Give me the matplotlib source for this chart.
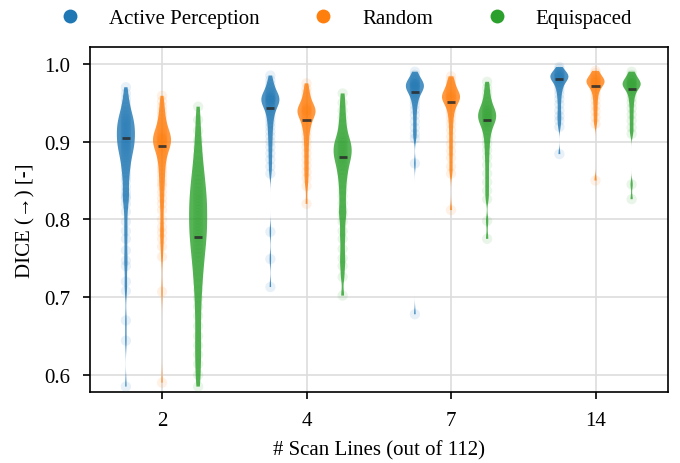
import matplotlib
matplotlib.use("Agg")
import matplotlib.pyplot as plt
import numpy as np
from matplotlib.lines import Line2D

plt.rcParams['font.family'] = ['Liberation Serif', 'DejaVu Serif']

categories = ["2", "4", "7", "14"]
methods = ["Active Perception", "Random", "Equispaced"]
colors = ["#1f77b4", "#ff7f0e", "#2ca02c"]

# DICE samples (per scan-line count)
active_2 = [0.970, 0.962, 0.955, 0.949, 0.944, 0.940, 0.937, 0.934, 0.931, 0.929, 0.927, 0.925,
            0.923, 0.921, 0.919, 0.917, 0.915, 0.913, 0.911, 0.909, 0.907, 0.905, 0.903, 0.901,
            0.899, 0.897, 0.895, 0.893, 0.891, 0.889, 0.886, 0.883, 0.880, 0.877, 0.873, 0.869,
            0.865, 0.860, 0.855, 0.850, 0.842, 0.835, 0.830, 0.827, 0.820, 0.810, 0.797,
            0.785, 0.775, 0.760, 0.747, 0.740, 0.720, 0.708, 0.670, 0.644, 0.585]
active_4 = [0.985, 0.979, 0.974, 0.970, 0.967, 0.964, 0.962, 0.960, 0.958, 0.957, 0.956, 0.955,
            0.954, 0.953, 0.952, 0.951, 0.949, 0.947, 0.945, 0.943, 0.940, 0.937, 0.933, 0.929,
            0.924, 0.919, 0.913, 0.907, 0.900, 0.893, 0.885, 0.877, 0.868, 0.859, 0.784, 0.749, 0.713]
active_7 = [0.990, 0.986, 0.983, 0.980, 0.978, 0.976, 0.975, 0.974, 0.973, 0.972, 0.971, 0.970,
            0.969, 0.968, 0.966, 0.964, 0.962, 0.959, 0.956, 0.952, 0.947, 0.941, 0.934, 0.926,
            0.918, 0.910, 0.904, 0.872, 0.678]
active_14 = [0.996, 0.993, 0.990, 0.988, 0.987, 0.986, 0.985, 0.984, 0.983, 0.982, 0.981, 0.980,
             0.978, 0.976, 0.973, 0.970, 0.966, 0.961, 0.955, 0.948, 0.940, 0.933, 0.927, 0.919, 0.884]

random_2 = [0.959, 0.952, 0.945, 0.939, 0.934, 0.929, 0.925, 0.921, 0.918, 0.915, 0.912, 0.910,
            0.908, 0.906, 0.905, 0.904, 0.903, 0.902, 0.901, 0.900, 0.899, 0.897, 0.895, 0.893,
            0.891, 0.888, 0.885, 0.882, 0.878, 0.874, 0.869, 0.864, 0.859, 0.853, 0.847, 0.843,
            0.835, 0.827, 0.820, 0.812, 0.800, 0.790, 0.783, 0.775, 0.765, 0.752, 0.707, 0.590]
random_4 = [0.975, 0.968, 0.962, 0.957, 0.953, 0.949, 0.946, 0.944, 0.942, 0.941, 0.940, 0.939,
            0.938, 0.936, 0.934, 0.932, 0.929, 0.926, 0.922, 0.918, 0.913, 0.907, 0.900, 0.893,
            0.885, 0.877, 0.869, 0.861, 0.853, 0.843, 0.820]
random_7 = [0.984, 0.979, 0.975, 0.971, 0.968, 0.965, 0.963, 0.961, 0.959, 0.958, 0.957, 0.956,
            0.955, 0.953, 0.951, 0.948, 0.945, 0.941, 0.936, 0.930, 0.923, 0.915, 0.906, 0.897,
            0.888, 0.879, 0.868, 0.859, 0.812]
random_14 = [0.991, 0.988, 0.985, 0.982, 0.980, 0.979, 0.978, 0.977, 0.976, 0.975, 0.973, 0.971,
             0.968, 0.964, 0.959, 0.953, 0.946, 0.939, 0.931, 0.923, 0.850]

equi_2 = [0.945, 0.928, 0.914, 0.902, 0.892, 0.883, 0.875, 0.868, 0.862, 0.856, 0.851, 0.846,
          0.841, 0.836, 0.832, 0.828, 0.824, 0.820, 0.816, 0.812, 0.808, 0.804, 0.800, 0.796,
          0.792, 0.788, 0.784, 0.780, 0.776, 0.772, 0.767, 0.762, 0.757, 0.752, 0.746, 0.740,
          0.733, 0.726, 0.718, 0.709, 0.699, 0.688, 0.676, 0.663, 0.650, 0.638, 0.626, 0.614,
          0.600, 0.585]
equi_4 = [0.962, 0.950, 0.940, 0.931, 0.923, 0.916, 0.910, 0.905, 0.901, 0.898, 0.895, 0.892,
          0.889, 0.886, 0.883, 0.880, 0.877, 0.873, 0.869, 0.864, 0.859, 0.853, 0.846, 0.838,
          0.830, 0.821, 0.812, 0.806, 0.797, 0.785, 0.775, 0.762, 0.750, 0.740, 0.726, 0.702]
equi_7 = [0.977, 0.969, 0.962, 0.956, 0.951, 0.947, 0.944, 0.941, 0.939, 0.937, 0.935, 0.933,
          0.931, 0.929, 0.927, 0.925, 0.922, 0.919, 0.915, 0.910, 0.904, 0.897, 0.889, 0.880,
          0.870, 0.859, 0.848, 0.837, 0.826, 0.798, 0.775]
equi_14 = [0.990, 0.986, 0.983, 0.980, 0.978, 0.976, 0.975, 0.974, 0.973, 0.972, 0.970, 0.968,
           0.965, 0.961, 0.956, 0.950, 0.943, 0.935, 0.927, 0.918, 0.910, 0.845, 0.826]

# medians
medians_active = [0.905, 0.943, 0.964, 0.980]
medians_random = [0.895, 0.928, 0.951, 0.971]
medians_equi = [0.777, 0.880, 0.928, 0.968]

data = [[active_2, active_4, active_7, active_14],
        [random_2, random_4, random_7, random_14],
        [equi_2, equi_4, equi_7, equi_14]]
medians = [medians_active, medians_random, medians_equi]

# kernel bandwidth (absolute DICE units) per category
bandwidth = [0.011, 0.008, 0.007, 0.0055]


def abs_bw(h):
    return lambda kde: h / np.std(kde.dataset)


fig = plt.figure(figsize=(6.8, 4.64), dpi=100)
ax = fig.add_axes([0.132, 0.153, 0.850, 0.744])

x = np.arange(len(categories))
offsets = [-0.25, 0.0, 0.25]
for m in range(3):
    for i in range(len(categories)):
        p = x[i] + offsets[m]
        vals = np.asarray(data[m][i])
        h = bandwidth[i] * (1.4 if (m == 2 and i == 0) else 1.0)
        vp = ax.violinplot([vals], positions=[p], widths=0.125, showextrema=False,
                           showmedians=False, bw_method=abs_bw(h), points=400)
        for b in vp['bodies']:
            b.set_facecolor(colors[m])
            b.set_edgecolor('none')
            b.set_alpha(0.8)
            b.set_zorder(2)
        ax.scatter(np.full(len(vals), p), vals, s=55, color=colors[m], alpha=0.1,
                   edgecolors='none', zorder=3)
        ax.plot([p - 0.028, p + 0.028], [medians[m][i]] * 2, color='#2b2b2b', lw=2.0,
                alpha=0.85, zorder=4, solid_capstyle='butt')

ax.set_xlim(-0.5, 3.5)
ax.set_ylim(0.578, 1.022)
ax.set_xticks(x)
ax.set_xticklabels(categories)
ax.set_yticks([0.6, 0.7, 0.8, 0.9, 1.0])
ax.set_yticklabels(["0.6", "0.7", "0.8", "0.9", "1.0"])
ax.grid(True, color='#dddddd', lw=1.2, zorder=0)
ax.set_axisbelow(True)
for s in ax.spines.values():
    s.set_linewidth(1.2)
    s.set_color('black')
ax.tick_params(axis='both', labelsize=15, length=5, width=1.2, direction='out', pad=9)
ax.set_xlabel("# Scan Lines (out of 112)", fontsize=15, labelpad=7)
ax.set_ylabel("DICE (→) [-]", fontsize=15, labelpad=6)

handles = [Line2D([0], [0], marker='o', linestyle='none', markersize=10,
                  markerfacecolor=c, markeredgecolor='none') for c in colors]
fig.legend(handles, methods, loc='upper left', bbox_to_anchor=(0.045, 1.02), ncol=3,
           frameon=False, fontsize=15, columnspacing=2.05, handletextpad=0.87)

fig.savefig("out.png", dpi=100)
